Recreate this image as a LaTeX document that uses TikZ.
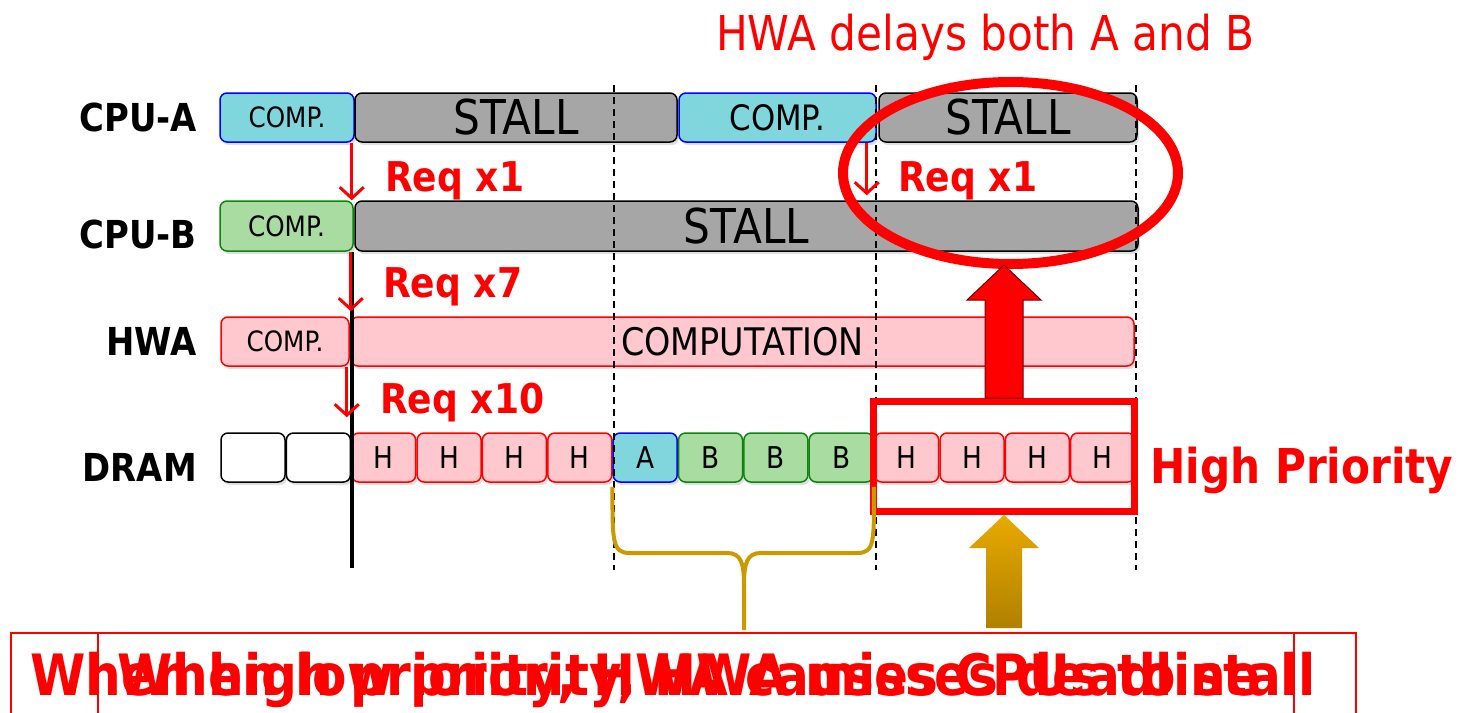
\documentclass[tikz,border=0pt]{standalone}
\usepackage{fontspec}
\setmainfont{DejaVu Sans}[FakeStretch=0.88]
\usetikzlibrary{shapes.geometric,shadows,calc,arrows.meta}
\definecolor{cyanf}{RGB}{127,214,220}
\definecolor{greenf}{RGB}{168,220,160}
\definecolor{greend}{RGB}{16,130,16}
\definecolor{grayf}{RGB}{166,166,166}
\definecolor{pinkf}{RGB}{255,199,206}
\definecolor{goldl}{RGB}{204,153,0}
\definecolor{goldt}{RGB}{232,170,0}
\definecolor{goldb}{RGB}{176,128,0}
\definecolor{darkred}{RGB}{110,0,0}
\newcommand\myfs[1]{\fontsize{#1}{#1}\selectfont}
\begin{document}
\begin{tikzpicture}[x=1pt,y=-1pt,
 bx/.style={rounded corners=7pt, line width=1.5pt, minimum height=49pt, inner sep=0pt,
   drop shadow={opacity=0.25,shadow xshift=2pt,shadow yshift=-3pt}},
 cpua/.style={bx, fill=cyanf, draw=blue},
 cpub/.style={bx, fill=greenf, draw=greend},
 stall/.style={bx, fill=grayf, draw=black},
 hw/.style={bx, fill=pinkf, draw=red},
 emp/.style={bx, fill=white, draw=black},
 cell/.style={minimum width=64pt, font=\myfs{30}},
 lbl/.style={font=\bfseries\myfs{38.5}, anchor=east, inner sep=0pt},
 req/.style={font=\bfseries\myfs{41}, text=red, anchor=base west, inner sep=0pt},
 rarr/.style={red, line width=3pt, -{Straight Barb[length=11pt,width=24pt]}},
 vdash/.style={line width=1.5pt, dash pattern=on 7pt off 5pt},
 brace/.style={goldl, line width=4pt},
 bigtext/.style={anchor=base west, text=red, font=\bfseries\myfs{57}, inner sep=0pt},
 botbox/.style={draw=red, line width=1.5pt, anchor=north west, inner sep=0pt, minimum height=100pt}
]
\useasboundingbox (0,0) rectangle (1461,712);

% row labels
\node[lbl] (lA) at (197,117) {CPU-A};
\node[lbl] (lB) at (197,234) {CPU-B};
\node[lbl] (lH) at (197,341) {HWA};
\node[lbl] (lD) at (197,467) {DRAM};

% CPU-A
\node[cpua, minimum width=134pt, font=\myfs{28}] (a1) at (287,117.5) {COMP.};
\node[stall, minimum width=322pt, font=\myfs{48}] (a2) at (516,117.5) {STALL};
\node[cpua, minimum width=197pt, font=\myfs{35}] (a3) at (777.5,117.5) {COMP.};
\node[stall, minimum width=258pt, font=\myfs{48}] (a4) at (1008,117.5) {STALL};
% CPU-B
\node[cpub, minimum width=133pt, minimum height=50pt, font=\myfs{28}] (b1) at (286.5,226) {COMP.};
\node[stall, minimum width=783pt, minimum height=50pt, font=\myfs{48}] (b2) at (746.5,226) {STALL};
% HWA
\node[hw, minimum width=128pt, font=\myfs{28}] (h1) at (285,341.5) {COMP.};
\node[hw, minimum width=783pt, font=\myfs{38}] (h2) at (742.5,341.5) {COMPUTATION};
% DRAM
\node[emp, cell] (d0) at (253,457.5) {};
\node[emp, cell] (d1) at (318.4,457.5) {};
\node[hw, cell] (d2) at (383.7,457.5) {H};
\node[hw, cell] (d3) at (449.1,457.5) {H};
\node[hw, cell] (d4) at (514.4,457.5) {H};
\node[hw, cell] (d5) at (579.8,457.5) {H};
\node[cpua, cell] (d6) at (645.2,457.5) {A};
\node[cpub, cell] (d7) at (710.5,457.5) {B};
\node[cpub, cell] (d8) at (775.9,457.5) {B};
\node[cpub, cell] (d9) at (841.2,457.5) {B};
\node[hw, cell] (d10) at (906.6,457.5) {H};
\node[hw, cell] (d11) at (972,457.5) {H};
\node[hw, cell] (d12) at (1037.3,457.5) {H};
\node[hw, cell] (d13) at (1102.7,457.5) {H};

% dashed time lines
\foreach \xx/\nm in {614/v1,876/v2,1136/v3}{
  \coordinate (\nm t) at (\xx,85);
  \coordinate (\nm b) at (\xx,570);
  \draw[vdash] (\nm t) -- (\nm b);
}
% thick black line
\coordinate (blb) at (352,568);
\draw[line width=4pt] (b1.south east -| blb) -- (blb);

% requests
\draw[rarr] ([xshift=-3pt]a1.south east) -- ([xshift=-3pt]a1.south east |- b1.north) ;
\draw[rarr, shorten >=5pt] ([xshift=-3pt]b1.south east) -- ([xshift=-3pt]b1.south east |- h1.north);
\draw[rarr, shorten >=15pt] ([xshift=-3pt]h1.south east) -- ([xshift=-3pt]h1.south east |- d1.north);
\draw[rarr, shorten >=5pt] ([xshift=-10pt]a3.south east) -- ([xshift=-10pt]a3.south east |- b2.north);
\node[req] (r1) at (385,191) {Req x1};
\node[req] (r7) at (383,297) {Req x7};
\node[req] (r10) at (380,413) {Req x10};
\node[req] (r1b) at (898,191) {Req x1};

% highlight
\node[draw=red, line width=10pt, ellipse, minimum width=335pt, minimum height=182pt, inner sep=0pt] (ell) at (1010.5,173) {};
\node[anchor=base west, text=red, font=\myfs{48}, inner sep=0pt] (title) at (716,50) {HWA delays both A and B};
\node[draw=red, line width=7pt, minimum width=261pt, minimum height=110pt, inner sep=0pt] (hp) at (1004,456.5) {};
\node[anchor=base west, text=red, font=\bfseries\myfs{48}, inner sep=0pt] (hpt) at (1150,483) {High Priority};

% big red arrow
\coordinate (rtip) at ($(hp.north |- ell.south)+(0,-4)$);
\filldraw[fill=red, draw=darkred, line width=1pt]
  ($(hp.north)+(-19,0)$) -- ($(hp.north)+(-19,-98)$) -- ($(hp.north)+(-37,-98)$) -- (rtip)
  -- ($(hp.north)+(37,-98)$) -- ($(hp.north)+(19,-98)$) -- ($(hp.north)+(19,0)$) -- cycle;

% gold arrow
\shade[top color=goldt, bottom color=goldb]
  (hp.south) -- ++(35,33) -- ++(-17,0) -- ++(0,80) -- ++(-36,0) -- ++(0,-80) -- ++(-17,0) -- cycle;

% brace
\coordinate (btip) at (744,630);
\draw[brace] ($(d6.south west)+(0,4)$) .. controls +(0,55) and +(-18,0) .. (630,553) -- (727,553)
  .. controls +(14,0) and +(0,-22) .. (744,585) -- (btip);
\draw[brace] ($(d9.south east)+(0,4)$) .. controls +(0,55) and +(18,0) .. (857,553) -- (761,553)
  .. controls +(-14,0) and +(0,-22) .. (744,585);

% bottom boxes and texts
\node[botbox, minimum width=1345pt] (bx1) at (10,632) {};
\node[botbox, minimum width=1196pt] (bx2) at (97,632) {};
\node[bigtext] (tA) at (30,695) {When high priority, HWA causes CPUs to stall};
\node[bigtext] (tB) at (117,695) {When low priority, HWA misses deadline};
\end{tikzpicture}
\end{document}
